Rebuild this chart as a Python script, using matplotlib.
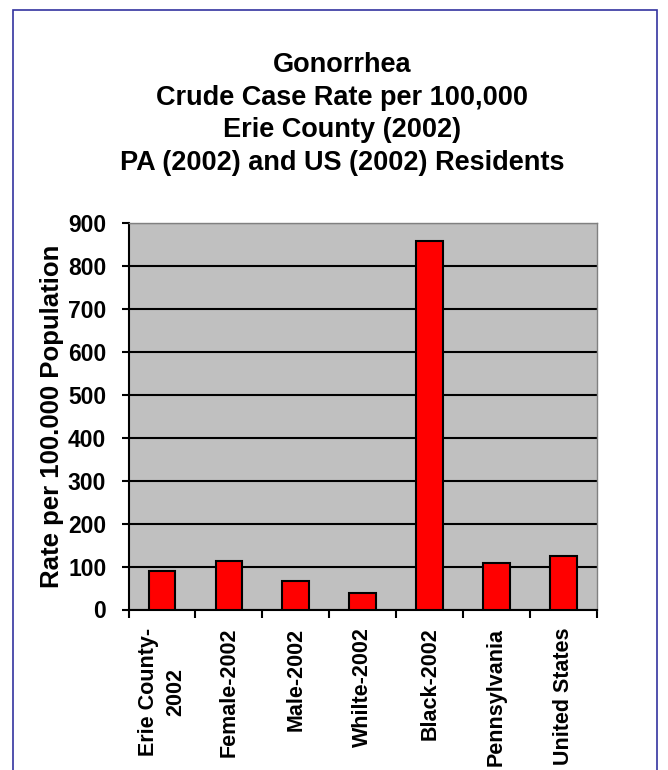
import matplotlib
matplotlib.use("Agg")
import matplotlib.pyplot as plt
from matplotlib.patches import Rectangle
import numpy as np

categories = ["Erie County-\n2002", "Female-2002", "Male-2002", "Whilte-2002",
              "Black-2002", "Pennsylvania", "United States"]
values = [90, 113, 67, 39, 858, 109, 125]
yticks = [0, 100, 200, 300, 400, 500, 600, 700, 800, 900]
title = "Gonorrhea\nCrude Case Rate per 100,000\nErie County (2002)\nPA (2002) and US (2002) Residents"
ylabel = "Rate per 100.000 Population"

plt.rcParams['font.family'] = ['Liberation Sans', 'DejaVu Sans']
W, H = 668, 770
fig = plt.figure(figsize=(W/100, H/100), dpi=100)

# blue border
fig.patches.append(Rectangle((13/W, -0.05), (657-13)/W, 1.05 - 10/H,
                             transform=fig.transFigure, fill=False,
                             edgecolor="#3333a0", linewidth=1.2))

left, right, top, bottom = 128.5, 597, 223, 609.5
ax = fig.add_axes([left/W, 1-bottom/H, (right-left)/W, (bottom-top)/H])
ax.set_facecolor("#c0c0c0")
x = np.arange(len(categories))
ax.bar(x, values, width=0.4, color="#ff0000", edgecolor="black", linewidth=1.5, zorder=3)
ax.set_xlim(-0.5, len(categories)-0.5)
ax.set_ylim(0, 900)
ax.set_yticks(yticks)
ax.set_yticklabels([str(v) for v in yticks], fontsize=16.5, fontweight="bold")
ax.yaxis.grid(True, color="black", linewidth=1.5, zorder=1)
ax.set_axisbelow(True)
ax.set_xticks(np.arange(-0.5, len(categories), 1.0))
ax.set_xticklabels([])
ax.set_xticks(x, minor=True)
ax.set_xticklabels(categories, minor=True, rotation=90, fontsize=15.5,
                   fontweight="bold", ha="center", va="top", multialignment="center",
                   linespacing=1.4)
ax.tick_params(axis="x", which="minor", length=0, pad=13)
ax.tick_params(axis="x", which="major", length=6, width=1.5, direction="out")
ax.tick_params(axis="y", length=5, width=1.5, direction="out", pad=11)
for s in ["top", "right"]:
    ax.spines[s].set_color("#808080")
    ax.spines[s].set_linewidth(1.0)
for s in ["left", "bottom"]:
    ax.spines[s].set_color("black")
    ax.spines[s].set_linewidth(1.5)
ax.set_ylabel(ylabel, fontsize=18.5, fontweight="bold", labelpad=3)

fig.text(342/W, 1-114/H, title, ha="center", va="center", fontsize=19.5,
         fontweight="bold", linespacing=1.32)

fig.savefig("out.png", dpi=100)
